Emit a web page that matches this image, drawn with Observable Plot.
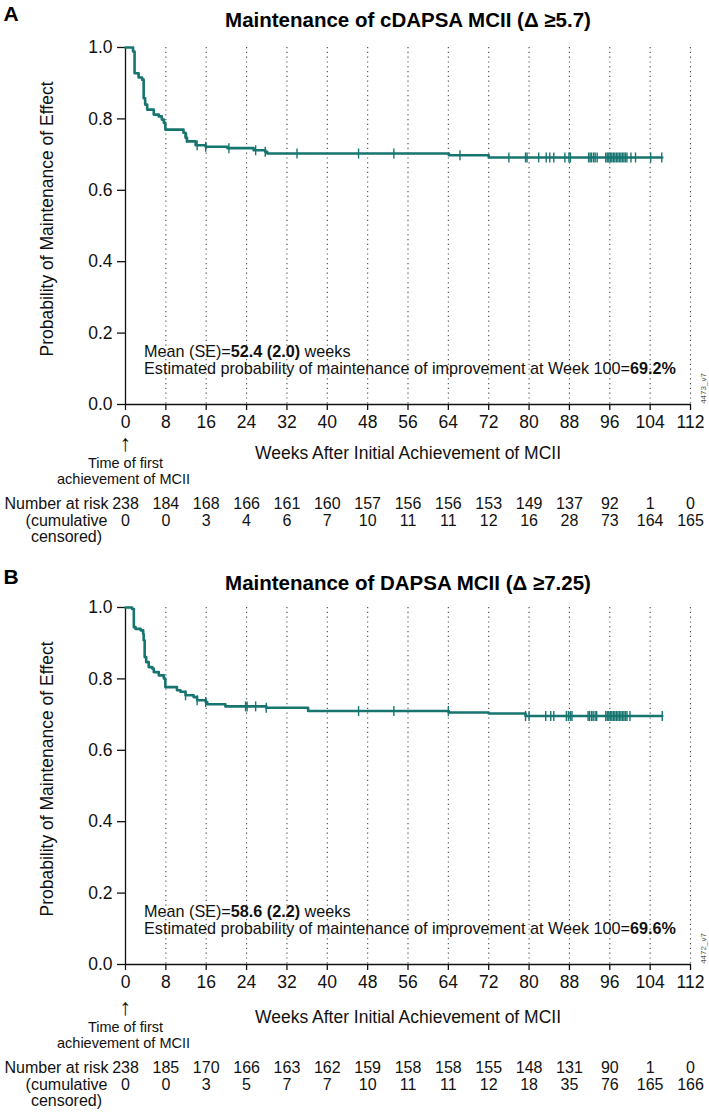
<!DOCTYPE html>
<html>
<head>
<meta charset="utf-8">
<script src="https://cdn.jsdelivr.net/npm/d3@7"></script>
<script src="https://cdn.jsdelivr.net/npm/@observablehq/plot@0.6"></script>
<style>
  body { margin: 0; background: #fff; }
  #chart { width: 709px; }
  #chart svg { display: block; font-family: "Liberation Sans", Arial, Helvetica, sans-serif; color: #111; }
</style>
</head>
<body>
<div id="chart"></div>
<script>
// ---------- shared axes ----------
const weekTicks = [0, 8, 16, 24, 32, 40, 48, 56, 64, 72, 80, 88, 96, 104, 112];
const probTicks = [0, 0.2, 0.4, 0.6, 0.8, 1.0];
const xTitle = "Weeks After Initial Achievement of MCII";
const yTitle = "Probability of Maintenance of Effect";
const originNote = ["Time of first", "achievement of MCII"];
const riskLabel = "Number at risk";
const censLabel = ["(cumulative", "censored)"];

// ---------- panel A ----------
const aLetter = "A";
const aTitle = "Maintenance of cDAPSA MCII (Δ ≥5.7)";
const aStepWeeks = [0, 1.5, 1.8, 2.6, 3.3, 3.6, 3.9, 4.3, 5.6, 6.6, 7.2, 7.6, 7.9, 11.5, 11.9, 12.2, 13.9, 15.9, 20.2, 25.4, 27.7, 28.1, 64.1, 72.0, 106.4];
const aStepSurv  = [1.0, 0.989, 0.928, 0.916, 0.910, 0.858, 0.840, 0.826, 0.812, 0.807, 0.798, 0.789, 0.770, 0.761, 0.747, 0.737, 0.726, 0.722, 0.718, 0.712, 0.708, 0.703, 0.698, 0.692, 0.692];
const aCensorWeeks = [12.1, 14.2, 15.9, 20.5, 25.8, 27.7, 34.0, 46.2, 53.2, 66.3, 76.0, 79.3, 79.6, 81.9, 83.4, 84.1, 84.9, 87.1, 87.9, 88.2,
  91.8, 92.1, 92.4, 92.8, 93.1, 93.5, 95.2, 95.5, 95.8, 96.1, 96.4, 96.7, 97.0, 97.3, 97.6, 97.9, 98.2, 98.5, 98.8, 99.1, 99.4, 100.2, 101.1, 104.1, 106.3];
const aAtRisk = [238, 184, 168, 166, 161, 160, 157, 156, 156, 153, 149, 137, 92, 1, 0];
const aCumCensored = [0, 0, 3, 4, 6, 7, 10, 11, 11, 12, 16, 28, 73, 164, 165];
const aMean = "52.4 (2.0)";
const aEstimate = "69.2%";
const aCode = "4473_v7";

// ---------- panel B ----------
const bLetter = "B";
const bTitle = "Maintenance of DAPSA MCII (Δ ≥7.25)";
const bStepWeeks = [0, 1.3, 1.65, 2.0, 3.0, 3.5, 3.6, 3.8, 4.1, 4.6, 5.3, 5.6, 6.6, 7.6, 7.9, 10.2, 10.9, 11.9, 13.5, 14.2, 15.9, 16.2, 19.8, 27.9, 36.2, 64.1, 72.0, 79.3, 106.4];
const bStepSurv  = [1.0, 0.996, 0.945, 0.940, 0.936, 0.926, 0.908, 0.861, 0.847, 0.833, 0.829, 0.819, 0.810, 0.801, 0.777, 0.768, 0.764, 0.754, 0.749, 0.740, 0.735, 0.729, 0.723, 0.719, 0.710, 0.706, 0.703, 0.696, 0.696];
const bCensorWeeks = [11.9, 14.2, 15.9, 23.8, 24.1, 25.8, 27.9, 46.2, 53.2, 64.0, 79.3, 80.0, 83.3, 84.3, 84.9, 87.4, 87.8, 88.2, 88.5,
  91.7, 92.0, 92.4, 92.7, 93.1, 93.4, 95.2, 95.5, 95.8, 96.1, 96.4, 96.7, 97.0, 97.3, 97.6, 97.9, 98.2, 98.5, 98.8, 99.1, 99.4, 100.0, 106.4];
const bAtRisk = [238, 185, 170, 166, 163, 162, 159, 158, 158, 155, 148, 131, 90, 1, 0];
const bCumCensored = [0, 0, 3, 5, 7, 7, 10, 11, 11, 12, 18, 35, 76, 165, 166];
const bMean = "58.6 (2.2)";
const bEstimate = "69.6%";
const bCode = "4472_v7";

// ---------- drawing ----------
const TEAL = "#177570";
const FONT = '"Liberation Sans", Arial, Helvetica, sans-serif';

const tickMark = {
  draw(ctx, size) {
    const r = Math.sqrt(size / Math.PI);
    ctx.moveTo(0, -r);
    ctx.lineTo(0, r);
  }
};

function panel(cfg) {
  const steps = cfg.weeks.map((w, i) => ({week: w, surv: cfg.surv[i]}));
  const survAt = (w) => {
    let s = cfg.surv[0];
    for (let i = 0; i < cfg.weeks.length; i++) if (cfg.weeks[i] <= w) s = cfg.surv[i];
    return s;
  };
  const censors = cfg.censor.map(w => ({week: w, surv: survAt(w)}));
  const sh = cfg.shift; // extra downward shift of the text block below the axis

  const svg = Plot.plot({
    width: 709,
    height: cfg.height,
    marginLeft: 125,
    marginRight: 19,
    marginTop: 47,
    marginBottom: cfg.height - 404,
    style: {fontFamily: FONT, fontSize: "17.5px", color: "#111", background: "#fff"},
    x: {domain: [0, 112]},
    y: {domain: [0, 1]},
    marks: [
      Plot.ruleX(weekTicks.filter(d => d > 0), {stroke: "#444", strokeWidth: 1.1, strokeDasharray: "1.2,3.6"}),
      Plot.ruleY([0], {stroke: "#111", strokeWidth: 1.3}),
      Plot.ruleX([0], {stroke: "#111", strokeWidth: 1.3}),
      Plot.axisX(weekTicks, {label: null, tickSize: 6, tickPadding: 5, fontSize: 17.5, stroke: "#111", strokeWidth: 1.3}),
      Plot.axisY(probTicks, {label: null, tickSize: 8, tickPadding: 5, fontSize: 17.5, tickFormat: d => d.toFixed(1), stroke: "#111", strokeWidth: 1.3}),
      Plot.line(steps, {x: "week", y: "surv", curve: "step-after", stroke: TEAL, strokeWidth: 2.6}),
      Plot.dot(censors, {x: "week", y: "surv", symbol: tickMark, r: 5, fill: "none", stroke: TEAL, strokeWidth: 1.4}),
      // panel letter and title
      Plot.text([cfg.letter], {frameAnchor: "top-left", dx: -122, dy: -27 + cfg.tshift, textAnchor: "start", lineAnchor: "bottom", fontSize: 21, fontWeight: "bold", fill: "#000"}),
      Plot.text([cfg.title], {frameAnchor: "top", dy: -21 + cfg.tshift, textAnchor: "middle", lineAnchor: "bottom", fontSize: 20.5, fontWeight: "bold", fill: "#000"}),
      // y title
      Plot.text([yTitle], {frameAnchor: "left", rotate: -90, dx: -78, dy: -7, textAnchor: "middle", lineAnchor: "middle", fontSize: 17.5, fill: "#111"}),
      // x title and origin note
      Plot.text([xTitle], {frameAnchor: "bottom", dy: 49 + sh, textAnchor: "middle", lineAnchor: "middle", fontSize: 17.5, fill: "#111"}),
      Plot.text(["↑"], {frameAnchor: "bottom-left", dy: 39 + sh, textAnchor: "middle", lineAnchor: "middle", fontSize: 23, fill: "#111"}),
      Plot.text([originNote[0]], {frameAnchor: "bottom-left", dy: 59 + sh, textAnchor: "middle", lineAnchor: "middle", fontSize: 14.5, fill: "#111"}),
      Plot.text([originNote[1]], {frameAnchor: "bottom-left", dx: -2, dy: 75 + sh, textAnchor: "middle", lineAnchor: "middle", fontSize: 14.5, fill: "#111"}),
      // number at risk table
      Plot.text([riskLabel], {frameAnchor: "bottom-left", dx: -17, dy: 99 + sh, textAnchor: "end", lineAnchor: "middle", fontSize: 16, fill: "#111"}),
      Plot.text([censLabel[0]], {frameAnchor: "bottom-left", dx: -59, dy: 116 + sh, textAnchor: "middle", lineAnchor: "middle", fontSize: 16, fill: "#111"}),
      Plot.text([censLabel[1]], {frameAnchor: "bottom-left", dx: -59, dy: 132 + sh, textAnchor: "middle", lineAnchor: "middle", fontSize: 16, fill: "#111"}),
      Plot.text(cfg.atRisk, {x: (d, i) => weekTicks[i], text: d => `${d}`, frameAnchor: "bottom", dy: 99 + sh, textAnchor: "middle", lineAnchor: "middle", fontSize: 16, fill: "#111"}),
      Plot.text(cfg.cumCens, {x: (d, i) => weekTicks[i], text: d => `${d}`, frameAnchor: "bottom", dy: 116 + sh, textAnchor: "middle", lineAnchor: "middle", fontSize: 16, fill: "#111"}),
      // figure code
      Plot.text([cfg.code], {frameAnchor: "bottom-right", dx: 13, dy: -16, rotate: -90, textAnchor: "middle", lineAnchor: "middle", fontSize: 8, fill: "#555"})
    ]
  });

  // annotation with mixed bold runs
  const s = d3.select(svg);
  const g = s.append("g").attr("font-family", FONT).attr("font-size", 16.2).attr("fill", "#111").attr("text-anchor", "start");
  const t1 = g.append("text").attr("x", 144).attr("y", 357).attr("text-anchor", "start");
  t1.append("tspan").text("Mean (SE)=");
  t1.append("tspan").attr("font-weight", "bold").text(cfg.mean);
  t1.append("tspan").text(" weeks");
  const t2 = g.append("text").attr("x", 144).attr("y", 374).attr("text-anchor", "start");
  t2.append("tspan").text("Estimated probability of maintenance of improvement at Week 100=");
  t2.append("tspan").attr("font-weight", "bold").text(cfg.estimate);
  return svg;
}

const chart = document.getElementById("chart");
chart.append(panel({letter: aLetter, title: aTitle, weeks: aStepWeeks, surv: aStepSurv, censor: aCensorWeeks,
  atRisk: aAtRisk, cumCens: aCumCensored, mean: aMean, estimate: aEstimate, code: aCode, height: 560, shift: 0, tshift: 0}));
chart.append(panel({letter: bLetter, title: bTitle, weeks: bStepWeeks, surv: bStepSurv, censor: bCensorWeeks,
  atRisk: bAtRisk, cumCens: bCumCensored, mean: bMean, estimate: bEstimate, code: bCode, height: 552, shift: 4, tshift: 3}));
</script>
</body>
</html>
